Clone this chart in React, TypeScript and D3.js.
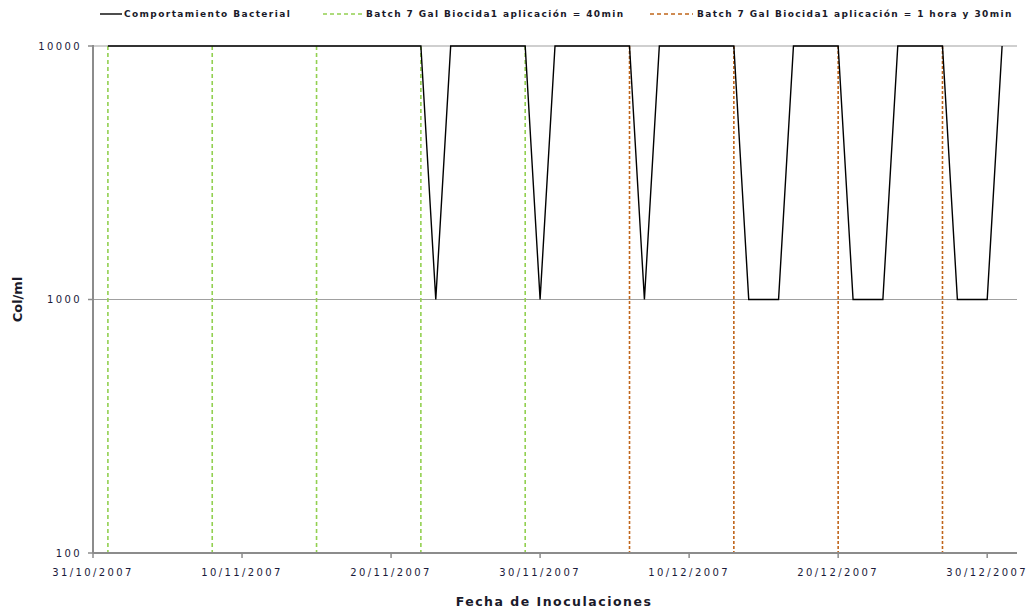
import React from "react";
import * as d3 from "d3";

const lineDates = [
  "2007-11-01", "2007-11-22", "2007-11-23", "2007-11-24", "2007-11-29", "2007-11-30",
  "2007-12-01", "2007-12-06", "2007-12-07", "2007-12-08", "2007-12-13", "2007-12-14",
  "2007-12-16", "2007-12-17", "2007-12-20", "2007-12-21", "2007-12-23", "2007-12-24",
  "2007-12-27", "2007-12-28", "2007-12-30", "2007-12-31",
];
const lineValues = [
  10000, 10000, 1000, 10000, 10000, 1000,
  10000, 10000, 1000, 10000, 10000, 1000,
  1000, 10000, 10000, 1000, 1000, 10000,
  10000, 1000, 1000, 10000,
];
const greenDates = ["2007-11-01", "2007-11-08", "2007-11-15", "2007-11-22", "2007-11-29"];
const orangeDates = ["2007-12-06", "2007-12-13", "2007-12-20", "2007-12-27"];
const xTickDates = ["2007-10-31", "2007-11-10", "2007-11-20", "2007-11-30", "2007-12-10", "2007-12-20", "2007-12-30"];
const yTicks = [100, 1000, 10000];
const legendLabels = [
  "Comportamiento Bacterial",
  "Batch 7 Gal Biocida1 aplicación = 40min",
  "Batch 7 Gal Biocida1 aplicación = 1 hora y 30min",
];

const W = 1030;
const H = 613;
const left = 93;
const right = 1017;
const top = 46;
const bottom = 553;

const parse = d3.utcParse("%Y-%m-%d");
const fmt = d3.utcFormat("%d/%m/%Y");

export default function App() {
  const x = d3.scaleUtc().domain([parse("2007-10-31")!, parse("2008-01-01")!]).range([left, right]);
  const y = d3.scaleLog().domain([100, 10000]).range([bottom, top]);
  const pts = lineDates.map((d, i) => [x(parse(d)!), y(lineValues[i])] as [number, number]);
  const path = d3.line()(pts) || "";
  const green = "#92d050";
  const orange = "#c0651a";
  const axisCol = "#8c8c8c";
  const font = "'DejaVu Sans', Verdana, sans-serif";

  return (
    <div style={{ position: "absolute", left: 0, top: 0 }}>
      <svg width={W} height={H} style={{ display: "block", background: "#fff" }}>
        {yTicks.filter((t) => t !== 100).map((t) => (
          <line key={t} x1={left} x2={right} y1={y(t)} y2={y(t)} stroke="#a0a0a0" strokeWidth={1.2} />
        ))}
        {greenDates.map((d) => (
          <line key={d} x1={x(parse(d)!)} x2={x(parse(d)!)} y1={top} y2={bottom} stroke={green} strokeWidth={1.6} strokeDasharray="4,3" />
        ))}
        {orangeDates.map((d) => (
          <line key={d} x1={x(parse(d)!)} x2={x(parse(d)!)} y1={top} y2={bottom} stroke={orange} strokeWidth={1.6} strokeDasharray="3,2" />
        ))}
        <path d={path} fill="none" stroke="#000" strokeWidth={1.4} />
        <line x1={left} x2={left} y1={top - 1} y2={bottom} stroke={axisCol} strokeWidth={2} />
        <line x1={left} x2={right} y1={bottom} y2={bottom} stroke={axisCol} strokeWidth={2} />
        {yTicks.map((t) => (
          <g key={t}>
            <line x1={left - 5} x2={left} y1={y(t)} y2={y(t)} stroke={axisCol} strokeWidth={1.5} />
            <text x={left - 11} y={y(t) + 3.5} textAnchor="end" fontFamily={font} fontSize={10} letterSpacing={2.4} fill="#1a1a3a">
              {t}
            </text>
          </g>
        ))}
        {xTickDates.map((d) => {
          const xx = x(parse(d)!);
          return (
            <g key={d}>
              <line x1={xx} x2={xx} y1={bottom} y2={bottom + 5} stroke={axisCol} strokeWidth={1.5} />
              <text x={xx} y={bottom + 23} textAnchor="middle" fontFamily={font} fontSize={10} letterSpacing={2.4} fill="#1a1a3a">
                {fmt(parse(d)!)}
              </text>
            </g>
          );
        })}
        <text x={554} y={606} textAnchor="middle" fontFamily={font} fontSize={12.5} fontWeight="bold" letterSpacing={1.5} fill="#1a1a2a">
          Fecha de Inoculaciones
        </text>
        <text transform={`translate(22,${(top + bottom) / 2}) rotate(-90)`} textAnchor="middle" fontFamily={font} fontSize={13} fontWeight="bold" fill="#1a1a2a">
          Col/ml
        </text>
        <g fontFamily={font} fontSize={9} fontWeight="bold" fill="#1a1a2a" letterSpacing={1.4}>
          <line x1={100} x2={122} y1={14} y2={14} stroke="#000" strokeWidth={1.4} />
          <text x={124} y={17}>{legendLabels[0]}</text>
          <line x1={323} x2={363} y1={14} y2={14} stroke={green} strokeWidth={1.4} strokeDasharray="4,3" />
          <text x={366} y={17}>{legendLabels[1]}</text>
          <line x1={650} x2={693} y1={14} y2={14} stroke={orange} strokeWidth={1.4} strokeDasharray="4,3" />
          <text x={697} y={17}>{legendLabels[2]}</text>
        </g>
      </svg>
    </div>
  );
}
